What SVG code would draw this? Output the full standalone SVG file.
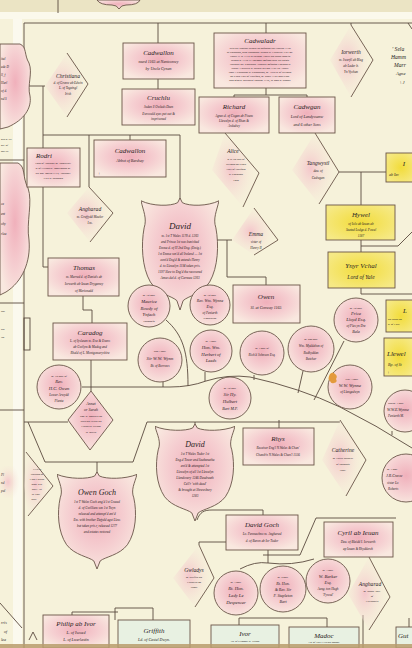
<svg xmlns="http://www.w3.org/2000/svg" width="412" height="648" viewBox="0 0 412 648">
<defs>
<radialGradient id="pk" cx="50%" cy="45%" r="60%"><stop offset="0" stop-color="#f0b0bb"/><stop offset="0.55" stop-color="#f5cdd0"/><stop offset="1" stop-color="#f9e8df"/></radialGradient>
<radialGradient id="pkc" cx="40%" cy="50%" r="60%"><stop offset="0" stop-color="#f4c6cb"/><stop offset="1" stop-color="#f6eedc" stop-opacity="0"/></radialGradient>
<radialGradient id="yl" cx="50%" cy="50%" r="60%"><stop offset="0" stop-color="#f2dc3a"/><stop offset="1" stop-color="#f6e985"/></radialGradient>
<symbol id="shield" viewBox="0 0 100 120" preserveAspectRatio="none">
<path vector-effect="non-scaling-stroke" d="M0,3 C15,9 38,9 47,5 L50,0 L53,5 C62,9 85,9 100,3 C97,14 92,22 96,32 C100,50 99,74 88,90 C78,103 60,105 54,110 L50,120 L46,110 C40,105 22,103 12,90 C1,74 0,50 4,32 C8,22 3,14 0,3 Z"/>
</symbol>
<style>
.ln{fill:none;stroke:#5a4a3e;stroke-width:0.9}
.bx{fill:url(#pk);stroke:#6a5548;stroke-width:0.9}
.yb{fill:url(#yl);stroke:#6a5548;stroke-width:0.9}
.gb{fill:#e8f1e2;stroke:#6a5548;stroke-width:0.9}
.sh{fill:url(#pk);stroke:#6a5548;stroke-width:0.9}
.ch{fill:url(#pkc);stroke:none}
.ce{fill:none;stroke:#6a5548;stroke-width:0.9}
.ci{fill:url(#pk);stroke:#6a5548;stroke-width:0.9}
text{font-family:"Liberation Serif","DejaVu Serif",serif;font-style:italic;fill:#2a1e24;text-anchor:middle}
.st{text-anchor:start}
.t{font-size:7px}
.t9{font-size:9px}
.t8{font-size:8px}
.t6{font-size:5.6px}
.m{font-size:4.6px}
.s4{font-size:4px}
.s{font-size:3.3px}
.s3{font-size:2.9px}
</style>
</defs>

<g id="background">
<rect x="0" y="0" width="412" height="648" fill="#f6f2da"/>
<rect x="0" y="0" width="412" height="12" fill="#ebe4c4"/>
<rect x="0" y="12" width="412" height="7" fill="#fbf9ec"/>
<rect x="13" y="19" width="9" height="629" fill="#fbf9ee"/>
</g>

<g id="top-fragment">
<path class="bx" d="M97,0 Q100,5 112,5 Q117,5 119,9 Q121,5 126,5 Q138,5 140,0 Z"/>
</g>

<g id="connectors">
<path class="ln" d="M58,0 V13"/>
<path class="ln" d="M24,23 H412"/>
<path class="ln" d="M24,23 V648"/>
<path class="ln" d="M158,23 V43 M266,23 V33 M351,23 V25 M408,23 L412,29"/>
<path class="ln" d="M158,79 V89"/>
<path class="ln" d="M24,86 H45 M43,86 V148 M43,135 H180 M89,135 V187 M130,135 V140 M180,135 V199"/>
<path class="ln" d="M43,187 V267 H48"/>
<path class="ln" d="M266,88 V95 M234,95 H307 M234,95 V97 M307,95 V97"/>
<path class="ln" d="M339,172 H386 M361,172 V205"/>
<path class="ln" d="M361,240 V252 M361,246 H398 L412,232"/>
<path class="ln" d="M361,288 V294 H412"/>
<path class="ln" d="M217,240 H232 M227,240 V277 H266 V285"/>
<path class="ln" d="M83,296 V310 H92 V323"/>
<path class="ln" d="M91,360 V391"/>
<path class="ln" d="M82,387 H170 Q190,387 206,381 Q228,374 250,377 Q300,388 340,407 Q376,425 412,448"/>
<path class="ln" d="M166,320 C183,335 188,352 188,386 M163,382 V387 M205,372 V381 M254,375 V380 M303,371 L298,393 M344,341 L314,400 M392,431 V435"/>
<path class="ln" d="M0,160 H24 M0,303 H24 M0,410 H24"/>
<path class="ln" d="M24,422 H68"/>
<path class="ln" d="M28,422 L45,462 H133 L147,422 H340"/>
<path class="ln" d="M97,462 V473 M195,422 V425"/>
<path class="ln" d="M279,420 V428"/>
<path class="ln" d="M197,520 C200,512 204,510 212,510 H263 V515"/>
<path class="ln" d="M199,545 V542 H226"/>
<path class="ln" d="M263,555 H300 L316,518 H396"/>
<path class="ln" d="M268,550 V563 M240,569 Q255,561 268,563 Q292,566 314,559"/>
<path class="ln" d="M72,648 V612 H118 M115,620 V608 H153 V620 M239,625 V618 H327 V627 M363,615 V648 M409,618 V648"/>
<path class="ln" d="M0,603 L22,628 M29,640 L33,632 L37,640"/>
<rect class="ln" x="24" y="318" width="6" height="32"/>
</g>

<g id="left-strip">
<path class="sh" d="M0,44 L20,44 C27,47 24,55 29,63 C33,73 27,85 30,96 C32,108 24,120 8,127 L0,129 Z"/>
<text class="s st" x="1" y="60">ital</text>
<text class="s st" x="1" y="68">ede D</text>
<text class="s st" x="1" y="76">ll, f</text>
<text class="s st" x="1" y="84">Harl</text>
<text class="s st" x="1" y="92">of d.</text>
<text class="s st" x="1" y="100">nd S</text>
<text class="s3 st" x="1" y="140">ove d. By</text>
<text class="s3 st" x="1" y="146">ort. of</text>
<text class="s3 st" x="1" y="152">der Bv</text>
<path class="sh" d="M0,163 L18,163 C26,167 22,177 28,188 C33,202 26,222 29,240 C31,262 22,282 6,292 L0,295 Z"/>
<text class="s st" x="1" y="205">ce</text>
<text class="s st" x="1" y="215">ent</text>
<text class="s st" x="1" y="225">ohy</text>
<text class="s st" x="1" y="235">rlea</text>
<text class="s3 st" x="1" y="312">ndi</text>
<text class="s3 st" x="1" y="330">sia</text>
<text class="s3 st" x="1" y="338">Bo</text>
<path class="ch" d="M0,466 L16,466 L20,482 L16,498 L0,498 Z"/>
<text class="s st" x="1" y="476">Pl</text>
<text class="s st" x="1" y="484">nd</text>
<text class="s st" x="1" y="492">pul</text>
<text class="s4 st" x="1" y="624">rris</text>
<text class="s4 st" x="4" y="633">of</text>
<text class="s4 st" x="1" y="641">lea</text>
</g>

<g id="n-cadwallon">
<rect class="bx" x="123" y="43" width="71" height="36"/>
<text class="t" x="158.5" y="55">Cadwallon</text>
<text class="s4" x="158.5" y="63">murd 1165 at Nantconwy</text>
<text class="s4" x="158.5" y="70">by Uncle Cynan</text>
</g>

<g id="n-cruchlu">
<rect class="bx" x="122" y="89" width="73" height="36"/>
<text class="t" x="158.5" y="100">Cruchlu</text>
<text class="s" x="158.5" y="108">Judan ll Owlads Deen</text>
<text class="s" x="158.5" y="115">Ewrcould eyes put out &amp;</text>
<text class="s" x="158.5" y="120">imprisoned</text>
</g>

<g id="n-christiana">
<path class="ch" d="M45,86 L67,53 L88,84 L67,117 Z"/>
<path class="ce" d="M67,53 L88,84 L67,117"/>
<text class="t6" x="68" y="78">Christiana</text>
<text class="s" x="68" y="84">d. of Gronw ab Edwin</text>
<text class="s" x="68" y="89">L. of Tegeingl</text>
<text class="s" x="68" y="95">Irish</text>
</g>

<g id="n-rodri">
<rect class="bx" x="27" y="148" width="53" height="39"/>
<text class="t" x="44" y="158">Rodri</text>
<text class="s3" x="53" y="164">Lord of Anglesey m. Tangwystl</text>
<text class="s3" x="53" y="169">d. of Llywarch. Imprisoned by</text>
<text class="s3" x="53" y="174">his bro. David 1174; Anglesey</text>
<text class="s3" x="53" y="179">1193 &amp; Released</text>
</g>

<g id="n-cadwallon-abbot">
<rect class="bx" x="94" y="140" width="72" height="37"/>
<text class="t" x="130" y="153">Cadwallon</text>
<text class="s4" x="130" y="162">Abbot of Bardsey</text>
<text class="s4" x="99" y="175">+</text>
</g>

<g id="n-angharad">
<path class="ch" d="M67,213 L89,187 L113,213 L90,242 Z"/>
<path class="ce" d="M89,187 L113,213 L90,242"/>
<text class="t6" x="90" y="211">Angharad</text>
<text class="s" x="90" y="218">m. Gruffydd Maelor</text>
<text class="s" x="90" y="224">I.m.</text>
</g>

<g id="n-david">
<use href="#shield" class="sh" x="141" y="198" width="78" height="112"/>
<text class="t9" x="180" y="229">David</text>
<text class="s" x="180" y="237">m. 1st T Wales 1170 d. 1203</text>
<text class="s" x="180" y="243">and Prince 1st was banished</text>
<text class="s" x="180" y="249">Emma d. of H 2nd Eng. (Emig.)</text>
<text class="s" x="180" y="255">1st Emma son'd all Ireland — 1st</text>
<text class="s" x="180" y="261">cont'd Eng'd &amp; extends Henry</text>
<text class="s" x="180" y="267">d. to Llewelyn 1194 taken pris.</text>
<text class="s" x="180" y="273">1197 Slew to Eng'd the recovered</text>
<text class="s" x="180" y="279">Annes dal d. of Carreau 1203</text>
</g>

<g id="n-cadwaladr">
<rect class="bx" x="214" y="33" width="92" height="55"/>
<text class="t" x="260" y="43">Cadwaladr</text>
<text class="s3" x="260" y="49">with his Brother Owain he defeated the English 1136</text>
<text class="s3" x="260" y="53">at Cardigan, also Rhuddlan. Owain &amp; Llewelyn 1157 ag.</text>
<text class="s3" x="260" y="57">Henry II. d. 1172 in Ireland. Harry ab Ieuan read to</text>
<text class="s3" x="260" y="61">Owain d. 1170 Ly Norman Dafydd recd. his estate</text>
<text class="s3" x="260" y="65">Anglesey ag. Cadwgan. Nephew defeated England &amp;</text>
<text class="s3" x="260" y="69">Wales. Llewelyn &amp; Owain his son 1157 ca. Henry</text>
<text class="s3" x="260" y="73">Sons 1 Cardigan &amp; Ceredigion, m. Alice d. of Richard</text>
<text class="s3" x="260" y="77">de Clare Earl of Hertford, m. 2ndly 1153 sons Cad.</text>
<text class="s3" x="260" y="81">and others. buried at Bangor 1172, in Mon d. Rhodri</text>
</g>

<g id="n-richard">
<rect class="bx" x="199" y="97" width="70" height="36"/>
<text class="t" x="234" y="109">Richard</text>
<text class="s" x="234" y="117">Agnes d. of Cogan ab Pizam</text>
<text class="s" x="234" y="122">Llewelyn d. of Rhan &amp;</text>
<text class="s" x="234" y="127">Ardudwy</text>
</g>

<g id="n-cadwgan">
<rect class="bx" x="279" y="97" width="56" height="36"/>
<text class="t" x="307" y="109">Cadwgan</text>
<text class="s4" x="307" y="118">Lord of Landyssanw</text>
<text class="s4" x="307" y="126">and 6 other Sons</text>
</g>

<g id="n-iorwerth">
<path class="ch" d="M330,60 L351,25 L373,60 L351,97 Z"/>
<path class="ce" d="M351,25 L373,60 L351,97"/>
<text class="t6" x="351" y="54">Iorwerth</text>
<text class="s" x="351" y="61">m. Iwerfil ab Bleg</text>
<text class="s" x="351" y="67">ab Lader b.</text>
<text class="s" x="351" y="73">Yn Vychan</text>
</g>

<g id="n-sela">
<text class="t6 st" x="392" y="51">' Sela</text>
<text class="t6 st" x="391" y="59">Hamm</text>
<text class="t6 st" x="394" y="67">Marr</text>
<text class="m st" x="396" y="75">Agne</text>
<text class="m st" x="400" y="84">\ J</text>
</g>

<g id="n-alice">
<path class="ch" d="M212,170 L225,133 L259,173 L243,207 Z"/>
<path class="ce" d="M225,133 L259,173 L243,207"/>
<text class="t6" x="233" y="153">Alice</text>
<text class="s3" x="236" y="160">d. &amp; co-heir of</text>
<text class="s3" x="236" y="165">Richard de Clare</text>
<text class="s3" x="236" y="170">Earl of Hertford</text>
<text class="s3" x="236" y="175">&amp; Cardigan</text>
<text class="s3" x="236" y="181">Lord</text>
</g>

<g id="n-tangwystl">
<path class="ch" d="M292,170 L315,133 L339,172 L319,204 Z"/>
<path class="ce" d="M315,133 L339,172 L319,204"/>
<text class="t6" x="318" y="165">Tangwystl</text>
<text class="s" x="318" y="172">dau. of</text>
<text class="s" x="318" y="179">Cadwgan</text>
</g>

<g id="n-yellow-a">
<rect class="yb" x="386" y="153" width="30" height="29"/>
<text class="t" x="404" y="166">I</text>
<text class="s4 st" x="389" y="176">ab Iev</text>
</g>

<g id="n-hywel">
<rect class="yb" x="326" y="205" width="69" height="35"/>
<text class="t" x="361" y="217">Hywel</text>
<text class="s" x="361" y="225">of Iolo ab Ieuan ab</text>
<text class="s" x="361" y="231">Seated Lodge d. Powel</text>
<text class="s" x="361" y="237">1187</text>
</g>

<g id="n-ynyr">
<rect class="yb" x="328" y="252" width="67" height="36"/>
<text class="t" x="361" y="268">Ynyr Vchal</text>
<text class="t6" x="361" y="279">Lord of Yale</text>
</g>

<g id="n-yellow-b">
<rect class="yb" x="386" y="300" width="30" height="32"/>
<text class="t" x="405" y="313">L</text>
<text class="s3 st" x="388" y="320">ab Ieuan ab</text>
<text class="s3 st" x="388" y="325">d. of Llew.</text>
</g>

<g id="n-llewelyn-bp">
<rect class="yb" x="384" y="338" width="30" height="38"/>
<text class="t st" x="387" y="356">Llewel</text>
<text class="s4 st" x="388" y="366">Bp. of St</text>
<text class="s4 st" x="387" y="374">+</text>
</g>

<g id="n-emma">
<path class="ch" d="M232,240 L254,208 L278,240 L254,255 Z"/>
<path class="ce" d="M254,208 L278,240 L254,255"/>
<text class="t6" x="256" y="236">Emma</text>
<text class="s" x="256" y="243">sister of</text>
<text class="s" x="256" y="249">Henry II</text>
</g>

<g id="n-owen">
<rect class="bx" x="233" y="285" width="67" height="38"/>
<text class="t" x="266" y="299">Owen</text>
<text class="s4" x="266" y="309">Sl. at Conway 1165</text>
</g>

<g id="n-thomas">
<rect class="bx" x="48" y="258" width="71" height="38"/>
<text class="t" x="84" y="270">Thomas</text>
<text class="s" x="84" y="278">m. Marred d. of Daniels ab</text>
<text class="s" x="84" y="285">Iorwerth ab Ieuan Dryganwy</text>
<text class="s" x="84" y="292">of Merionedd</text>
</g>

<g id="n-caradog">
<rect class="bx" x="53" y="323" width="74" height="37"/>
<text class="t" x="90" y="335">Caradog</text>
<text class="s" x="90" y="342">L. of Iyslasen m. Eva &amp; Evans</text>
<text class="s" x="90" y="348">ab Gwilym &amp; Madog and</text>
<text class="s" x="90" y="354">Rhald of L. Montgomeryshire</text>
</g>

<g id="n-rev-owen">
<circle class="ci" cx="59" cy="387" r="22"/>
<text class="s3" x="59" y="377">m. 1st dau. of</text>
<text class="m" x="59" y="383">Rev.</text>
<text class="m" x="59" y="390">H.C. Owen</text>
<text class="s" x="59" y="396">Lower Arwydd</text>
<text class="s" x="59" y="402">Planta</text>
</g>

<g id="n-maurice">
<circle class="ci" cx="149" cy="306" r="21"/>
<text class="s3" x="149" y="296">m. 1st dau.</text>
<text class="m" x="149" y="303">Maurice</text>
<text class="m" x="149" y="309.5">Rowdy of</text>
<text class="m" x="149" y="316">Ynfach</text>
<text class="s3" x="149" y="322">Penmorfa</text>
</g>

<g id="n-ww-wynn">
<circle class="ci" cx="160" cy="360" r="22"/>
<text class="s3" x="160" y="352">2nd 1 dau.</text>
<text class="m" x="160" y="360">Sir W.W. Wynn</text>
<text class="s" x="160" y="367">Bt. of Borrows</text>
</g>

<g id="n-rev-wynne">
<circle class="ci" cx="210" cy="305" r="20"/>
<text class="s3" x="210" y="296">m. 1st dau.</text>
<text class="s4" x="210" y="302">Rev. Wm. Wynne</text>
<text class="s4" x="210" y="308">Esq.</text>
<text class="s" x="210" y="314">of Peniarth</text>
<text class="s3" x="210" y="319">Chancellor</text>
</g>

<g id="n-hon-herbert">
<circle class="ci" cx="211" cy="351" r="21"/>
<text class="s3" x="211" y="342">m. 1 dau.</text>
<text class="m" x="211" y="349">Hon. Wm.</text>
<text class="m" x="211" y="356">Herbert of</text>
<text class="m" x="211" y="362">Leeds</text>
</g>

<g id="n-johnson">
<circle class="ci" cx="262" cy="353" r="22"/>
<text class="s3" x="262" y="349">m. 1 dau. of</text>
<text class="s" x="262" y="356">Rich'd Johnson Esq.</text>
</g>

<g id="n-myddelton">
<circle class="ci" cx="311" cy="349" r="23"/>
<text class="s3" x="311" y="340">m. 2nd dau.</text>
<text class="s" x="311" y="347">Wm. Myddelton of</text>
<text class="s" x="311" y="354">Rudhyddan</text>
<text class="s" x="311" y="360">Butcher</text>
</g>

<g id="n-price-lloyd">
<circle class="ci" cx="356" cy="320" r="22"/>
<text class="s3" x="356" y="309">m. 1st dau.</text>
<text class="m" x="356" y="315">Price</text>
<text class="m" x="356" y="321">Lloyd Esq.</text>
<text class="s" x="356" y="327">of Plas yn Dre</text>
<text class="s4" x="356" y="333">Bala</text>
</g>

<g id="n-hulbert">
<circle class="ci" cx="230" cy="398" r="21"/>
<text class="s3" x="230" y="389">m. 1st dau.</text>
<text class="m" x="230" y="396">Sir Hy.</text>
<text class="m" x="230" y="403">Hulbert</text>
<text class="s4" x="230" y="410">Bart M.P.</text>
</g>

<g id="n-llangedwyn">
<circle class="ci" cx="350" cy="387" r="22"/>
<path d="M330,374 q3,-3 5,0 q3,2 1,5 q2,3 -2,4 q-3,1 -4,-2 q-3,-2 0,-7 z" fill="#e39a3c"/>
<text class="s3" x="352" y="380">Cal. 1 dau.</text>
<text class="m" x="350" y="387">W.W. Wynne</text>
<text class="s" x="350" y="393">of Llangedwyn</text>
</g>

<g id="n-peniarth">
<circle class="ci" cx="405" cy="411" r="21"/>
<text class="s3 st" x="388" y="404">2nd m. 1 dau.</text>
<text class="s4 st" x="387" y="411">W.W.E.Wynne</text>
<text class="s st" x="388" y="417">Peniarth M.</text>
</g>

<g id="n-sarah">
<path class="bx" d="M68,420 L91,391 L113,420 L90,450 Z"/>
<text class="s4" x="91" y="405">Annet</text>
<text class="s4" x="91" y="411">or Sarah</text>
<text class="s3" x="91" y="417">hbd. d. Maurice ab</text>
<text class="s3" x="91" y="422">Rhys ab Hywel ab</text>
<text class="s3" x="91" y="427">Llewelyn Vychan</text>
<text class="s3" x="91" y="433">in Towyn</text>
</g>

<g id="n-left-chevron">
<path class="ch" d="M24,486 L26,452 L53,486 L28,516 Z"/>
<path class="ce" d="M26,452 L53,486 L28,516"/>
<text class="s3" x="37" y="470">LEWIS</text>
<text class="s3" x="37" y="475">Steward of</text>
<text class="s3" x="37" y="480">Llan Llewen</text>
<text class="s3" x="37" y="485">bldg. b.d.</text>
<text class="s3" x="37" y="490">ancl. 1st</text>
<text class="s3" x="36" y="495">in Edw.</text>
<text class="s3" x="34" y="500">Dwy</text>
</g>

<g id="n-david-lower">
<use href="#shield" class="sh" x="155" y="424" width="80" height="97"/>
<text class="t8" x="195" y="447">David</text>
<text class="s" x="195" y="455">1st T Wales Tudor 1st</text>
<text class="s" x="195" y="461">Eng.d Tower and Seabanatha</text>
<text class="s" x="195" y="467">ent'd &amp; attempted 1st</text>
<text class="s" x="195" y="473">Llewelyn of all 1st Llewelyn</text>
<text class="s" x="195" y="479">Llandovery 1246 Deudraeth</text>
<text class="s" x="195" y="485">Cell'r 'with dead'</text>
<text class="s" x="195" y="491">&amp; brought at Shrewsbury</text>
<text class="s" x="195" y="497">1283</text>
</g>

<g id="n-owen-goch">
<use href="#shield" class="sh" x="57" y="472" width="80" height="97"/>
<text class="t8" x="97" y="495">Owen Goch</text>
<text class="s" x="97" y="503">1st T Wales Coch ang'd 1st Gwaed</text>
<text class="s" x="97" y="509">d. of Gwilliam son 1st Twyn</text>
<text class="s" x="97" y="515">released and attempt'd ent'd</text>
<text class="s" x="97" y="521">Em. with brother Dafydd agst Llew.</text>
<text class="s" x="97" y="527">but taken pris.r, released 1277</text>
<text class="s" x="97" y="533">and estates restored</text>
</g>

<g id="n-rhys">
<rect class="bx" x="243" y="428" width="71" height="37"/>
<text class="t" x="278" y="441">Rhys</text>
<text class="s" x="278" y="449">Receiver Eng'l N.Wales &amp; Chan'</text>
<text class="s" x="278" y="456">Chamb'n N.Wales &amp; Chan'l 1556</text>
</g>

<g id="n-catherine">
<path class="ch" d="M322,460 L340,420 L366,460 L346,496 Z"/>
<path class="ce" d="M340,420 L366,460 L346,496"/>
<text class="t6" x="343" y="452">Catherine</text>
<text class="s3" x="343" y="459">m. Lewis Owen &amp;</text>
<text class="s3" x="343" y="465">of Baronets</text>
<text class="s3" x="343" y="471">Lanc.</text>
</g>

<g id="n-cresw">
<circle class="ci" cx="406" cy="478" r="24"/>
<text class="s3 st" x="387" y="470">m. 1 dau.</text>
<text class="s4 st" x="386" y="477">J.R.Cresw</text>
<text class="s st" x="387" y="484">sister Lo</text>
<text class="s st" x="388" y="490">Roberts</text>
</g>

<g id="n-david-goch">
<rect class="bx" x="226" y="515" width="72" height="35"/>
<text class="t" x="262" y="527">David Goch</text>
<text class="s" x="262" y="535">Lo. Penmachno m. Angharad</text>
<text class="s" x="262" y="542">d. of Baron ab Ior Tudor</text>
</g>

<g id="n-cyril">
<rect class="bx" x="324" y="522" width="69" height="35"/>
<text class="t" x="358" y="535">Cyril ab Ieuan</text>
<text class="s" x="358" y="543">Dau. of Blaidd I. Iorwerth</text>
<text class="s" x="358" y="550">ap Ieuan &amp; Rhydderch</text>
</g>

<g id="n-gwladys">
<path class="ch" d="M173,578 L199,545 L214,578 L195,607 Z"/>
<path class="ce" d="M199,545 L214,578 L195,607"/>
<text class="t6" x="194" y="572">Gwladys</text>
<text class="s3" x="194" y="578">m. Griffith ab</text>
<text class="s3" x="194" y="583">Llewelyn ap</text>
<text class="s3" x="194" y="588">Tudur</text>
</g>

<g id="n-despencer">
<circle class="ci" cx="236" cy="593" r="22"/>
<text class="s3" x="236" y="583">m. 1 dau.</text>
<text class="m" x="236" y="590">Rt. Hon.</text>
<text class="m" x="236" y="597">Lady Le</text>
<text class="m" x="236" y="604">Despencer</text>
</g>

<g id="n-stapleton">
<circle class="ci" cx="283" cy="589" r="23"/>
<text class="s3" x="283" y="578">m. 2 dau.</text>
<text class="s4" x="283" y="585">Rt. Hon.</text>
<text class="s4" x="283" y="591">&amp; Rev. Sir</text>
<text class="s4" x="283" y="597">F. Stapleton</text>
<text class="s4" x="283" y="603">Bart</text>
</g>

<g id="n-barker">
<circle class="ci" cx="328" cy="581" r="22"/>
<text class="s3" x="328" y="571">m. 1 dau.</text>
<text class="m" x="328" y="578">W. Barker</text>
<text class="s4" x="328" y="584">Esq.</text>
<text class="s" x="328" y="590">Aung. ton Hugh</text>
<text class="s" x="328" y="596">'Pywod'</text>
</g>

<g id="n-angharad-lower">
<path class="ch" d="M348,594 L369,557 L390,597 L369,630 Z"/>
<path class="ce" d="M369,557 L390,597 L369,630"/>
<text class="t6" x="370" y="586">Angharad</text>
<text class="s3" x="372" y="592">m. Jenan 'Yow'</text>
<text class="s3" x="372" y="597">of</text>
<text class="s3" x="372" y="602">Llwydiarth</text>
</g>

<g id="n-philip">
<rect class="bx" x="43" y="615" width="66" height="33"/>
<text class="t" x="76" y="626">Philip ab Ivor</text>
<text class="s4" x="76" y="634">L. of Iscoed</text>
<text class="s4" x="76" y="641">L. of Lwerlastin</text>
</g>

<g id="n-griffith">
<rect class="gb" x="118" y="620" width="72" height="28"/>
<text class="t" x="154" y="633">Griffith</text>
<text class="s4" x="154" y="641">Ld. of Castel Dwyn.</text>
</g>

<g id="n-ivor">
<rect class="gb" x="211" y="625" width="68" height="23"/>
<text class="t" x="245" y="636">Ivor</text>
<text class="s3" x="245" y="642">Ld. of Cymmer &amp; Ystrad</text>
</g>

<g id="n-madoc">
<rect class="gb" x="289" y="627" width="70" height="21"/>
<text class="t" x="324" y="638">Madoc</text>
<text class="s3" x="324" y="643">Ld. of Tre'r Llys ab Madoc</text>
</g>

<g id="n-guto">
<rect class="gb" x="396" y="627" width="20" height="21"/>
<text class="t st" x="398" y="638">Gut</text>
</g>

<g id="photo-edge">
<rect x="0" y="644" width="412" height="4" fill="#b89c6c" opacity="0.85"/>
</g>
</svg>
